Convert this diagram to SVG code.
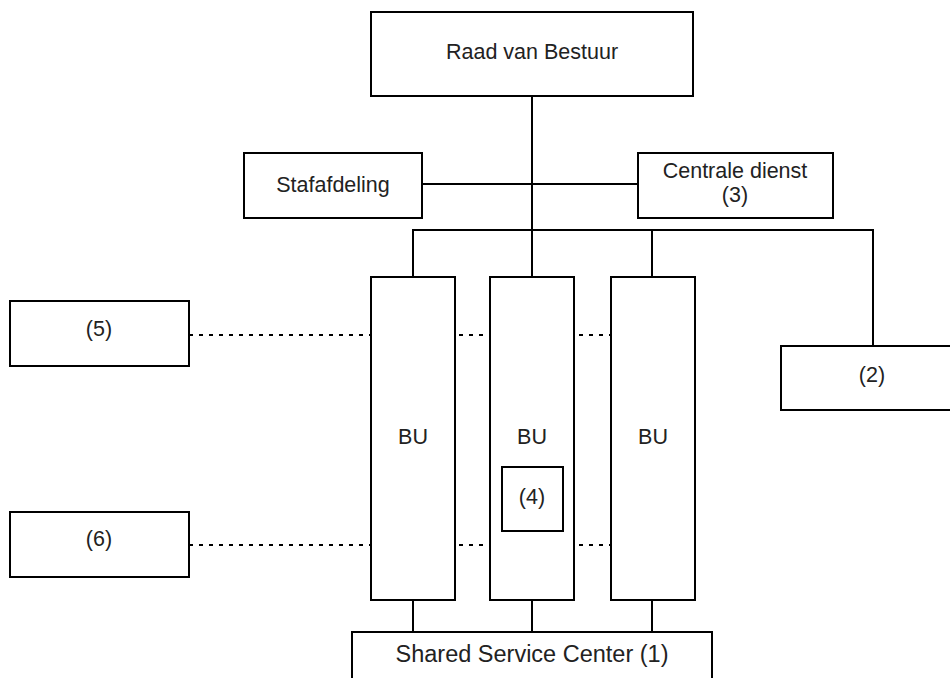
<svg xmlns="http://www.w3.org/2000/svg" width="950" height="678" viewBox="0 0 950 678">
  <style>
    .box { fill: #ffffff; stroke: #000000; stroke-width: 2; }
    .line { fill: none; stroke: #000000; stroke-width: 2; }
    .dot { fill: none; stroke: #000000; stroke-width: 2; stroke-dasharray: 4 6; }
    .lbl { font-family: "Liberation Sans", Arial, Helvetica, sans-serif; font-size: 21.5px; fill: #222222; text-anchor: middle; dominant-baseline: central; }
  </style>
  <rect width="950" height="678" fill="#ffffff"/>

  <!-- connectors -->
  <g id="connectors">
    <line class="line" x1="532" y1="96" x2="532" y2="277"/>
    <line class="line" x1="422" y1="184" x2="638" y2="184"/>
    <polyline class="line" points="413,277 413,230 873,230 873,346"/>
    <line class="line" x1="652" y1="230" x2="652" y2="277"/>
    <line class="line" x1="413" y1="600" x2="413" y2="632"/>
    <line class="line" x1="532" y1="600" x2="532" y2="632"/>
    <line class="line" x1="652" y1="600" x2="652" y2="632"/>
    <line class="dot" x1="189" y1="335" x2="611" y2="335"/>
    <line class="dot" x1="189" y1="545" x2="611" y2="545"/>
  </g>

  <g id="raad">
    <rect class="box" x="371" y="12" width="322" height="84"/>
    <text class="lbl" x="532" y="52">Raad van Bestuur</text>
  </g>
  <g id="stafafdeling">
    <rect class="box" x="244" y="153" width="178" height="65"/>
    <text class="lbl" x="333" y="185">Stafafdeling</text>
  </g>
  <g id="centrale">
    <rect class="box" x="638" y="153" width="195" height="65"/>
    <text class="lbl" x="735" y="171">Centrale dienst</text>
    <text class="lbl" x="735" y="195">(3)</text>
  </g>
  <g id="bu1">
    <rect class="box" x="371" y="277" width="84" height="323"/>
    <text class="lbl" x="413" y="437">BU</text>
  </g>
  <g id="bu2">
    <rect class="box" x="490" y="277" width="84" height="323"/>
    <text class="lbl" x="532" y="437">BU</text>
  </g>
  <g id="bu3">
    <rect class="box" x="611" y="277" width="84" height="323"/>
    <text class="lbl" x="653" y="437">BU</text>
  </g>
  <g id="n4">
    <rect class="box" x="502" y="467" width="61" height="64"/>
    <text class="lbl" x="532" y="497">(4)</text>
  </g>
  <g id="n2">
    <rect class="box" x="781" y="346" width="175" height="64"/>
    <text class="lbl" x="872" y="375">(2)</text>
  </g>
  <g id="n5">
    <rect class="box" x="10" y="301" width="179" height="65"/>
    <text class="lbl" x="99" y="329">(5)</text>
  </g>
  <g id="n6">
    <rect class="box" x="10" y="512" width="179" height="65"/>
    <text class="lbl" x="99" y="539">(6)</text>
  </g>
  <g id="ssc">
    <rect class="box" x="352" y="632" width="360" height="60"/>
    <text class="lbl" x="532" y="654" style="font-size:23.5px">Shared Service Center (1)</text>
  </g>
</svg>
